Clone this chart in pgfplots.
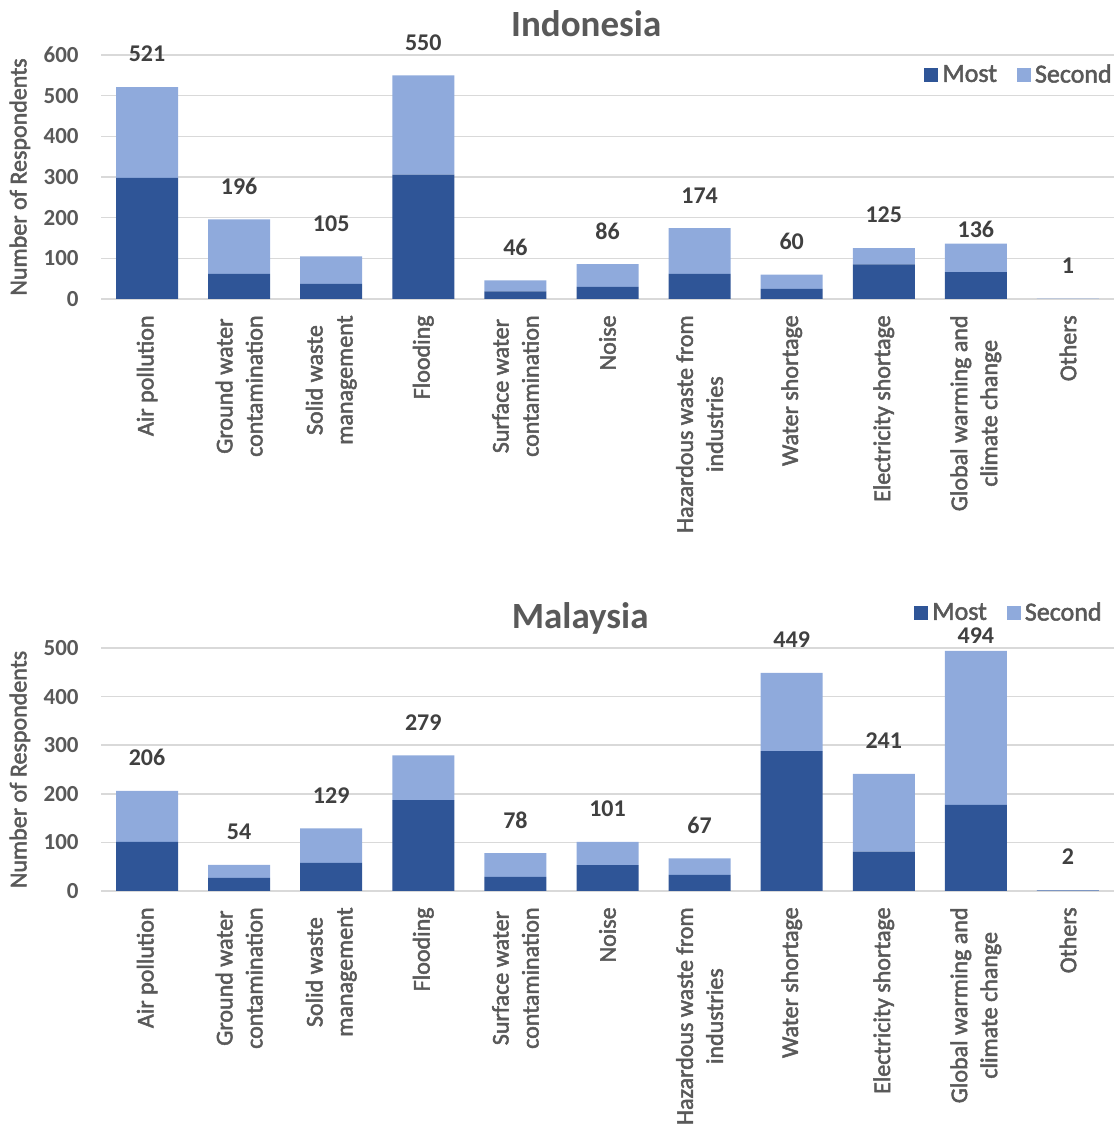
\documentclass[border=0pt]{standalone}
\usepackage{pgfplots}
\pgfplotsset{compat=1.18}
\usepackage{pgfplotstable}
\usepackage{fontspec}
\setmainfont{Carlito}
\newfontfamily\semib{Carlito}[FakeBold=2]
\definecolor{mostc}{HTML}{2F5597}
\definecolor{secc}{HTML}{8FAADC}
\definecolor{txt}{HTML}{595959}
\definecolor{lbl}{HTML}{404040}
\definecolor{gridc}{HTML}{D9D9D9}

\pgfplotstableread{
x most second total dy
0 298 223 521 16.5
1 62 134 196 16.5
2 37 68 105 16.5
3 306 244 550 16.5
4 19 27 46 16.5
5 30 56 86 16.5
6 62 112 174 16.5
7 25 35 60 16.5
8 85 40 125 16.5
9 66 70 136 7
10 0 1 1 16.5
}\indo

\pgfplotstableread{
x most second total dy
0 101 105 206 16.5
1 27 27 54 16.5
2 58 71 129 16.5
3 187 92 279 16.5
4 29 49 78 16.5
5 53 48 101 16.5
6 33 34 67 16.5
7 288 161 449 16.5
8 81 160 241 16.5
9 177 317 494 7.5
10 1 1 2 16.5
}\malay

\pgfplotsset{
  geom/.style={
    scale only axis,
    width=506.5pt,
    xmin=-0.5, xmax=10.5,
    ymin=0,
    clip=false,
  },
  mystyle/.style={
    geom,
    ybar stacked,
    bar width=31pt,
    axis line style={draw=none},
    major tick length=0pt,
    ymajorgrids,
    grid style={gridc, line width=0.75pt},
    xtick={0,...,10},
    xticklabels={Air pollution,{Ground water\\contamination},{Solid waste\\management},Flooding,{Surface water\\contamination},Noise,{Hazardous waste from\\industries},Water shortage,Electricity shortage,{Global warming and\\climate change},Others},
    xticklabel style={rotate=90, anchor=east, align=center, inner xsep=8pt, inner ysep=0pt, text=txt, font=\semib\fontsize{12}{15}\selectfont},
    /pgf/number format/assume math mode=true,
    yticklabel style={text=txt, font=\bfseries\fontsize{11.5}{13}\selectfont, inner xsep=0pt, xshift=-11pt},
    ylabel={Number of Respondents},
    ylabel style={at={(axis description cs:-0.08,0.5)}, anchor=center, text=txt, font=\semib\fontsize{12}{14}\selectfont},
    title style={text=txt, font=\bfseries\fontsize{18.5}{20}\selectfont, anchor=center},
    legend columns=2,
    legend style={draw=none, fill=none, font=\semib\fontsize{13}{15}\selectfont, text=txt,
      /tikz/every even column/.append style={column sep=8pt}},
    legend image code/.code={\fill[#1] (0pt,-3.5pt) rectangle (7pt,3.5pt);},
  },
  labaxis/.style={
    geom,
    axis lines=none,
    xtick=\empty, ytick=\empty,
  },
  labplot/.style={only marks, mark=*, mark size=0pt, mark options={draw=none, fill=none, draw opacity=0, fill opacity=0},
    visualization depends on={\thisrow{dy} \as \dy},
    nodes near coords, point meta=explicit symbolic,
    every node near coord/.append style={anchor=center, yshift=\dy, text=lbl, text opacity=1, font=\bfseries\fontsize{12}{14}\selectfont}},
}

\begin{document}
\begin{tikzpicture}
\useasboundingbox (0,0) rectangle (557pt,566.5pt);
\begin{axis}[mystyle,
  at={(50.5pt,417pt)}, anchor=south west,
  height=122pt, ymax=600, ytick={0,100,...,600},
  title={Indonesia},
  title style={at={(axis description cs:0.479,1)}, yshift=9.5pt},
  legend style={at={(axis description cs:1.008,0.918)}, anchor=east},
]
\addplot[fill=mostc, draw=none] table[x=x, y=most] {\indo};
\addplot[fill=secc, draw=none] table[x=x, y=second] {\indo};
\legend{Most, Second}
\end{axis}
\begin{axis}[labaxis, at={(50.5pt,417pt)}, anchor=south west, height=122pt, ymax=600]
\addplot[labplot] table[x=x, y=total, meta=total] {\indo};
\end{axis}

\begin{axis}[mystyle,
  at={(50.5pt,121pt)}, anchor=south west,
  height=121.5pt, ymax=500, ytick={0,100,...,500},
  title={Malaysia},
  title style={at={(axis description cs:0.473,1)}, yshift=9pt},
  legend style={at={(axis description cs:0.998,1.144)}, anchor=east},
]
\addplot[fill=mostc, draw=none] table[x=x, y=most] {\malay};
\addplot[fill=secc, draw=none] table[x=x, y=second] {\malay};
\legend{Most, Second}
\end{axis}
\begin{axis}[labaxis, at={(50.5pt,121pt)}, anchor=south west, height=121.5pt, ymax=500]
\addplot[labplot] table[x=x, y=total, meta=total] {\malay};
\end{axis}
\end{tikzpicture}
\end{document}
